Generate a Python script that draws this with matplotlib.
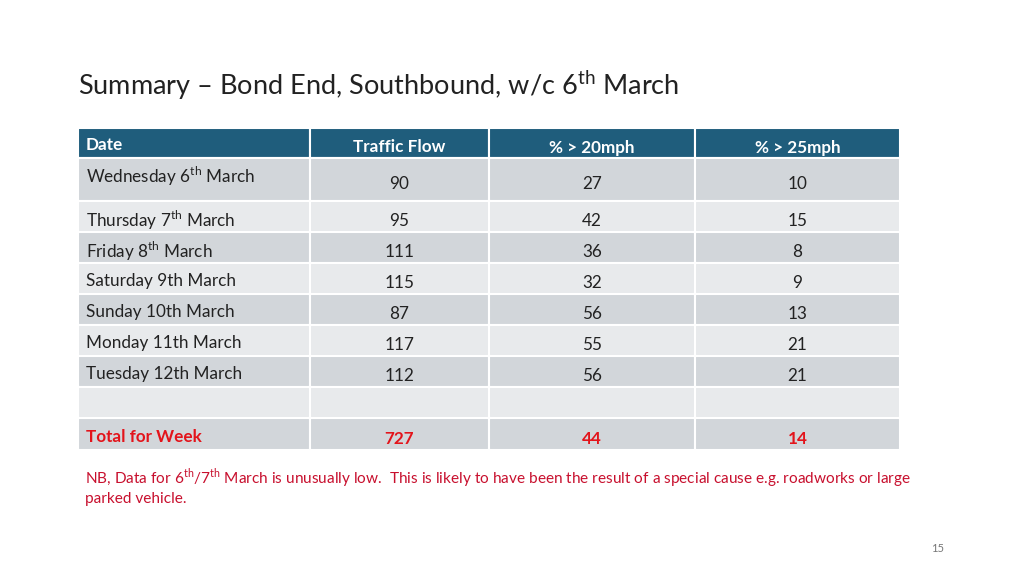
import matplotlib.pyplot as plt
from matplotlib.patches import Rectangle

plt.rcParams["font.family"] = "Lato"
plt.rcParams["mathtext.fontset"] = "custom"
plt.rcParams["mathtext.rm"] = "Lato"

headers = ["Date", "Traffic Flow", "% > 20mph", "% > 25mph"]
dates = ["Wednesday 6$^{\\mathrm{th}}$ March", "Thursday 7$^{\\mathrm{th}}$ March",
         "Friday 8$^{\\mathrm{th}}$ March", "Saturday 9th March", "Sunday 10th March",
         "Monday 11th March", "Tuesday 12th March", "", "Total for Week"]
flow = ["90", "95", "111", "115", "87", "117", "112", "", "727"]
over20 = ["27", "42", "36", "32", "56", "55", "56", "", "44"]
over25 = ["10", "15", "8", "9", "13", "21", "21", "", "14"]

col_x = [78, 310, 489, 695, 900]
row_y = [128, 158, 201, 232, 263, 294, 325, 356, 387, 418, 450]
HEAD = "#1F5D7C"
DARK = "#D2D6DA"
LIGHT = "#E8EAEC"
RED = "#E3141B"

fig = plt.figure(figsize=(10.24, 5.76), dpi=100)
ax = fig.add_axes([0, 0, 1, 1])
ax.set_xlim(0, 1024)
ax.set_ylim(576, 0)
ax.axis("off")

ax.text(78, 85, "Summary \u2013 Bond End, Southbound, w/c 6$^{\\mathrm{th}}$ March",
        fontsize=19.5, color="#222222", va="center", ha="left")

rows = [headers] + [[d, f, a, b] for d, f, a, b in zip(dates, flow, over20, over25)]
for r, vals in enumerate(rows):
    y0, y1 = row_y[r], row_y[r + 1]
    if r == 0:
        fc = HEAD
    else:
        fc = DARK if r % 2 == 1 else LIGHT
    for c in range(4):
        x0, x1 = col_x[c], col_x[c + 1]
        ax.add_patch(Rectangle((x0, y0), x1 - x0, y1 - y0, facecolor=fc,
                               edgecolor="white", linewidth=1.5))
        txt = vals[c]
        if not txt:
            continue
        if r == 0:
            color, weight = "white", "bold"
        elif r == len(rows) - 1:
            color, weight = RED, "bold"
        else:
            color, weight = "#222222", "normal"
        ym = (y0 + y1) / 2 + 1
        if c == 0:
            yy = y0 + 16 if r == 1 else ym
            ax.text(x0 + 8, yy, txt, fontsize=12.3, color=color, weight=weight,
                    va="center_baseline", ha="left")
        else:
            ax.text((x0 + x1) / 2, ym + 2, txt, fontsize=12.3, color=color,
                    weight=weight, va="center_baseline", ha="center")

ax.text(85, 478, "NB, Data for 6$^{\\mathrm{th}}$/7$^{\\mathrm{th}}$ March is unusually low.  "
        "This is likely to have been the result of a special cause e.g. roadworks or large",
        fontsize=11.1, color="#C8102E", va="center", ha="left")
ax.text(85, 499, "parked vehicle.", fontsize=11.1, color="#C8102E",
        va="center", ha="left")
ax.text(938, 549, "15", fontsize=8, color="#777777", va="center", ha="center")

fig.savefig("out.png", dpi=100)
